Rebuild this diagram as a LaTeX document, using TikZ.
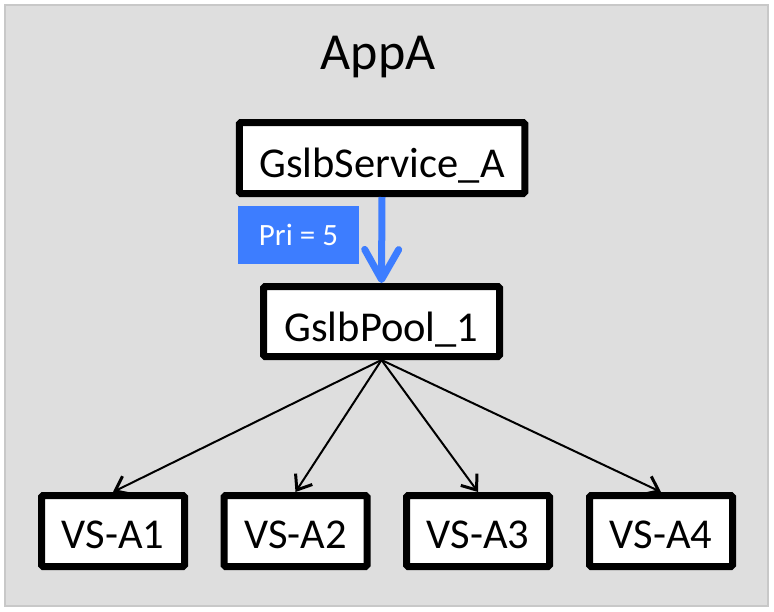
\documentclass[tikz,border=0pt]{standalone}
\usepackage{fontspec}
\setmainfont{Carlito}
\usetikzlibrary{arrows.meta}
\definecolor{bgfill}{HTML}{DEDEDE}
\definecolor{bgline}{HTML}{C8C8C8}
\definecolor{priblue}{RGB}{61,125,255}
\begin{document}
\begin{tikzpicture}[x=1pt,y=-1pt,
  box/.style={draw=black,line width=7pt,fill=white,rounded corners=1.5pt,
    inner sep=0pt,font=\fontsize{42.5}{50}\selectfont,text height=39.5pt,text depth=0pt},
  vsbox/.style={box,minimum width=143pt,minimum height=71pt,text height=34pt},
  conn/.style={draw=black,line width=2pt,-{Straight Barb[length=13pt,width=20pt,line width=3pt]}},
  bluearrow/.style={draw=priblue,line width=7pt,-{Straight Barb[length=30pt,width=34pt,round]}},
  prilabel/.style={fill=priblue,text=white,inner sep=0pt,minimum width=121pt,minimum height=58pt,
    font=\fontsize{31}{36}\selectfont},
  title/.style={font=\fontsize{52}{60}\selectfont,inner sep=0pt}]
\useasboundingbox (0,0) rectangle (774,611);
\draw[fill=bgfill,draw=bgline,line width=2pt] (5,5) rectangle (768,606);
\node[title] (app) at (378,57) {AppA};
\node[box,minimum width=285.5pt,minimum height=71pt] (svc) at (382,158) {GslbService\_A};
\node[box,minimum width=236pt,minimum height=70pt] (pool) at (381.5,321.5) {GslbPool\_1};
\node[prilabel] (pri) at (298.5,235) {Pri = 5};
\node[vsbox] (vs1) at (113,531) {VS-A1};
\node[vsbox] (vs2) at (295.5,531) {VS-A2};
\node[vsbox] (vs3) at (478,531) {VS-A3};
\node[vsbox] (vs4) at (661,531) {VS-A4};
\draw[bluearrow] (svc.south) -- (pool.north);
\foreach \v in {vs1,vs2,vs3,vs4}{\draw[conn] (pool.south) -- (\v.north);}
\end{tikzpicture}
\end{document}
